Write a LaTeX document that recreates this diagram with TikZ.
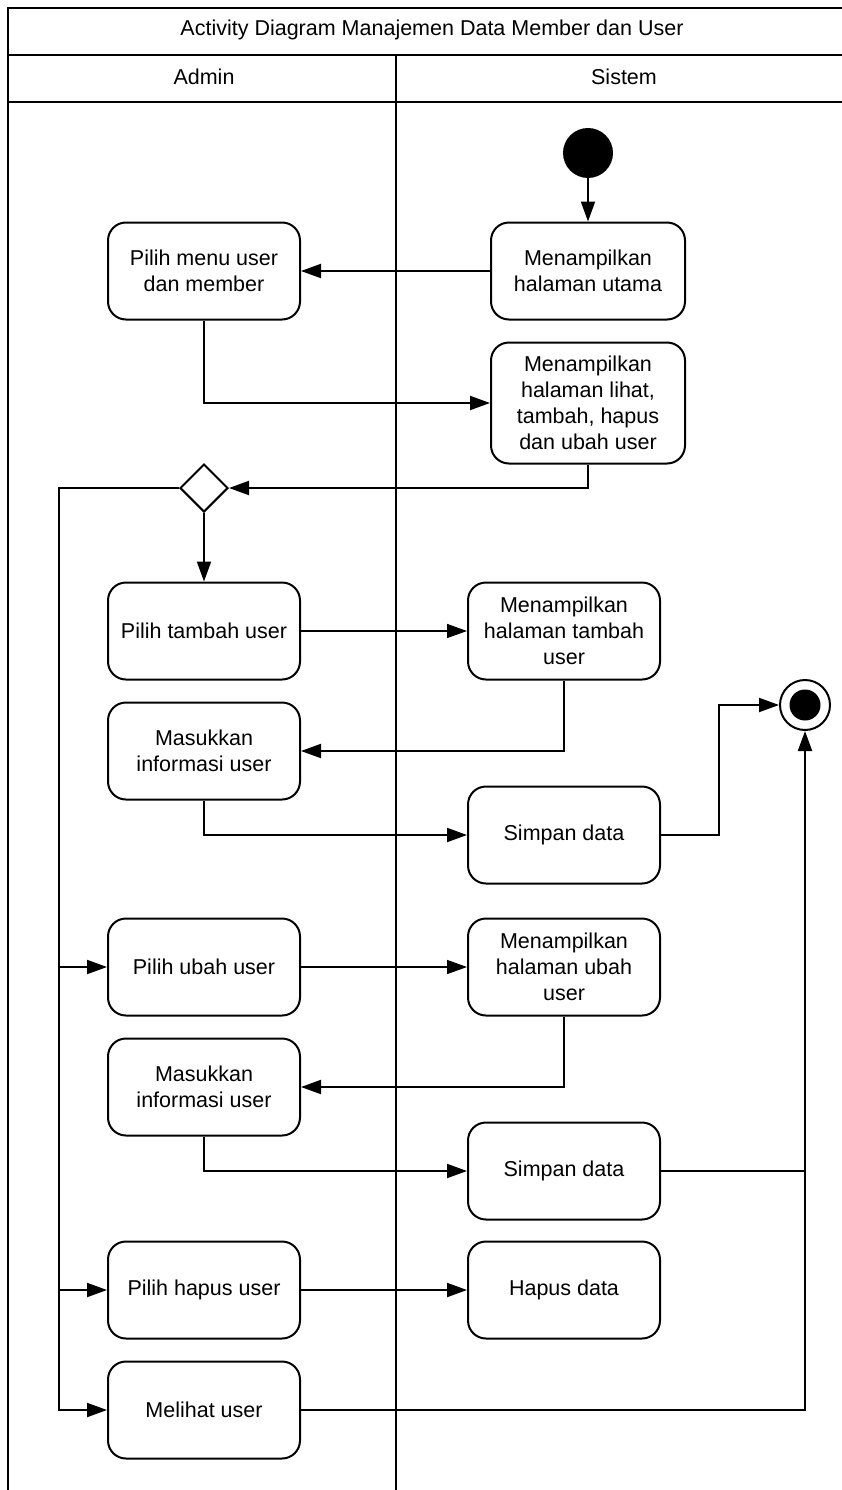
\documentclass[tikz,border=0pt]{standalone}
\usepackage{fontspec}
\setmainfont{Liberation Sans}
\usetikzlibrary{arrows.meta,shapes.geometric}

\begin{document}
\begin{tikzpicture}[x=1pt,y=-1pt,
  every node/.style={font=\fontsize{21.5}{26}\selectfont},
  act/.style={draw,line width=2pt,rounded corners=18pt,minimum width=192pt,minimum height=97pt,align=center,inner sep=0pt},
  lane/.style={line width=1.4pt},
  conn/.style={line width=2pt},
  flow/.style={conn,-{Triangle[length=20pt,width=14pt]}},
  thinflow/.style={line width=1.5pt,-{Triangle[length=20pt,width=14pt]}}]
\useasboundingbox (0,0) rectangle (842,1490);

% swimlane frame
\draw[lane] (8,1490) -- (8,8) -- (880,8);
\draw[lane] (8,55) -- (880,55);
\draw[lane] (8,102) -- (880,102);
\draw[lane] (396,55) -- (396,1490);
\node (title) at (432,30) {Activity Diagram Manajemen Data Member dan User};
\node (admin) at (204,77) {Admin};
\node (sistem) at (624,77) {Sistem};

% start and end
\node[circle,fill,minimum size=50pt,inner sep=0pt] (start) at (588,153) {};
\node[circle,draw,line width=2pt,minimum size=50pt,inner sep=0pt] (end) at (805,705) {};
\node[circle,fill,minimum size=31pt,inner sep=0pt] (enddot) at (end) {};

% activities
\node[act,minimum width=194pt] (utama) at (588,271) {Menampilkan\\halaman utama};
\node[act] (menu) at (204,271) {Pilih menu user\\dan member};
\node[act,minimum width=194pt,minimum height=121pt] (lihat) at (588,403) {Menampilkan\\halaman lihat,\\tambah, hapus\\dan ubah user};
\node[diamond,draw,line width=2pt,minimum width=48pt,minimum height=48pt,inner sep=0pt] (dec) at (204,488) {};

\node[act] (tambah) at (204,631) {Pilih tambah user};
\node[act] (hltambah) at (564,631) {Menampilkan\\halaman tambah\\user};
\node[act] (info1) at (204,751) {Masukkan\\informasi user};
\node[act] (simpan1) at (564,835) {Simpan data};

\node[act] (ubah) at (204,967) {Pilih ubah user};
\node[act] (hlubah) at (564,967) {Menampilkan\\halaman ubah\\user};
\node[act] (info2) at (204,1087) {Masukkan\\informasi user};
\node[act] (simpan2) at (564,1171) {Simpan data};

\node[act] (hapus) at (204,1290) {Pilih hapus user};
\node[act] (hapusdata) at (564,1290) {Hapus data};
\node[act] (melihat) at (204,1410) {Melihat user};

% connectors
\draw[flow] (start) -- (utama);
\draw[flow] (utama) -- (menu);
\draw[flow] (menu) |- (lihat);
\draw[flow] (lihat) |- (dec);
\draw[flow] (dec) -- (tambah);
\draw[flow] (dec.west) -- ++(-120,0) coordinate (trunk) |- (melihat);
\draw[flow] (trunk |- ubah) -- (ubah);
\draw[flow] (trunk |- hapus) -- (hapus);

\draw[thinflow] (tambah) -- (hltambah);
\draw[flow] (hltambah) |- (info1);
\draw[flow] (info1) |- (simpan1);
\draw[flow] (simpan1.east) -- ++(58,0) |- (end);

\draw[thinflow] (ubah) -- (hlubah);
\draw[flow] (hlubah) |- (info2);
\draw[flow] (info2) |- (simpan2);
\draw[conn] (simpan2) -- (simpan2 -| end);

\draw[flow] (hapus) -- (hapusdata);
\draw[flow] (melihat) -| (end);
\end{tikzpicture}
\end{document}
